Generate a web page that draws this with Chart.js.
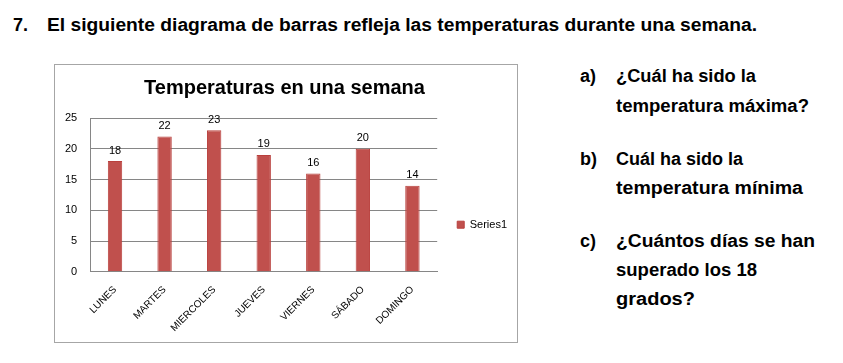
<!DOCTYPE html>
<html>
<head>
<meta charset="utf-8">
<script src="https://cdn.jsdelivr.net/npm/chart.js@4.4.1/dist/chart.umd.min.js"></script>
<style>
  body { margin: 0; background: #fff; width: 843px; height: 363px; overflow: hidden; position: relative; font-family: "Liberation Sans", Arial, sans-serif; }
  .t { position: absolute; font-weight: bold; color: #000; white-space: nowrap; transform-origin: 0 50%; font-size: 18px; line-height: 20px; }
  #box { position: absolute; left: 54px; top: 64px; width: 462px; height: 277px; border: 1px solid #a6a6a6; background: #fff; }
</style>
</head>
<body>
<div class="t" style="left:13px;top:15px">7.</div>
<div class="t fit" data-w="710" style="left:47px;top:15px">El siguiente diagrama de barras refleja las temperaturas durante una semana.</div>

<div class="t" style="left:580px;top:66px">a)</div>
<div class="t fit" data-w="140" style="left:616px;top:66px">¿Cuál ha sido la</div>
<div class="t fit" data-w="193" style="left:616px;top:96px">temperatura máxima?</div>
<div class="t" style="left:580px;top:149px">b)</div>
<div class="t fit" data-w="127" style="left:616px;top:149px">Cuál ha sido la</div>
<div class="t fit" data-w="187" style="left:616px;top:178px">temperatura mínima</div>
<div class="t" style="left:580px;top:231px">c)</div>
<div class="t fit" data-w="199" style="left:616px;top:231px">¿Cuántos días se han</div>
<div class="t fit" data-w="141" style="left:616px;top:260px">superado los 18</div>
<div class="t fit" data-w="79" style="left:616px;top:289px">grados?</div>

<div id="box"><canvas id="chart"></canvas></div>

<script>
const days = ['LUNES', 'MARTES', 'MIERCOLES', 'JUEVES', 'VIERNES', 'SÁBADO', 'DOMINGO']
const temps = [18, 22, 23, 19, 16, 20, 14]
const seriesName = 'Series1'
const chartTitle = 'Temperaturas en una semana'

// squeeze the bold text lines to the widths they have in the scan
document.querySelectorAll('.fit').forEach(el => {
  const w = el.getBoundingClientRect().width
  el.style.transform = `scaleX(${el.dataset.w / w})`
})

const font = '"Liberation Sans", Arial, sans-serif'

const valueLabels = {
  id: 'valueLabels',
  afterDatasetsDraw: chart => {
    const ctx = chart.ctx
    chart.getDatasetMeta(0).data.forEach((bar, i) => {
      ctx.save()
      ctx.font = `11px ${font}`
      ctx.fillStyle = '#000'
      ctx.textAlign = 'center'
      ctx.textBaseline = 'bottom'
      ctx.fillText(temps[i], bar.x, bar.y - 5)
      ctx.restore()
    })
  }
}

new Chart(document.getElementById('chart'), {
  type: 'bar',
  data: {
    labels: days,
    datasets: [
      {
        label: seriesName,
        data: temps,
        backgroundColor: '#c0504d',
        borderColor: '#b9403d',
        borderWidth: 1,
        categoryPercentage: 1,
        barPercentage: 0.29
      }
    ]
  },
  options: {
    responsive: true,
    maintainAspectRatio: false,
    animation: false,
    layout: { autoPadding: false, padding: { left: -3, right: 0, top: 0, bottom: -4 } },
    plugins: {
      title: {
        display: true,
        text: chartTitle,
        color: '#000',
        font: { family: font, size: 20, weight: 'bold' },
        padding: { top: 11, bottom: 18 }
      },
      legend: {
        position: 'right',
        align: 'center',
        title: { display: true, text: '', padding: { top: 24 } },
        labels: {
          boxWidth: 7,
          boxHeight: 7,
          padding: 20,
          color: '#000',
          font: { family: font, size: 11 }
        }
      },
      tooltip: { enabled: false }
    },
    scales: {
      x: {
        grid: { display: false, drawTicks: false },
        border: { color: '#868686' },
        ticks: {
          color: '#000',
          font: { family: font, size: 10 },
          maxRotation: 45,
          minRotation: 45,
          padding: 12
        }
      },
      y: {
        min: 0,
        max: 25,
        grid: { color: '#868686', drawTicks: false },
        border: { color: '#868686' },
        ticks: {
          stepSize: 5,
          color: '#000',
          font: { family: font, size: 11 },
          padding: 13
        }
      }
    }
  },
  plugins: [valueLabels]
})
</script>
</body>
</html>
